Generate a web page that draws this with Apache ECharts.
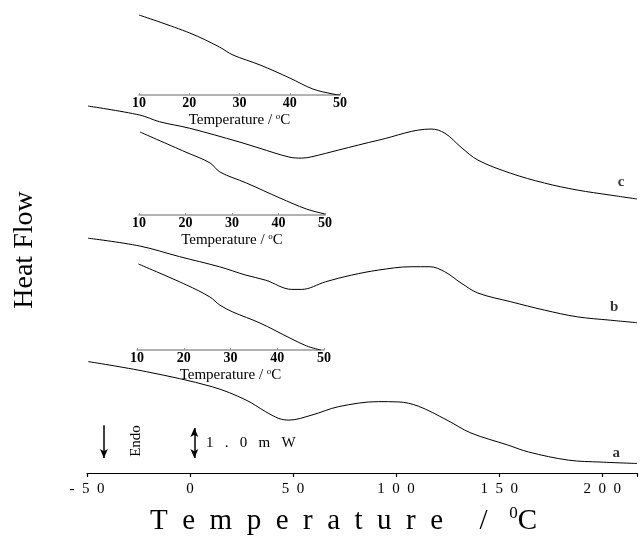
<!DOCTYPE html>
<html><head><meta charset="utf-8">
<script src="https://cdn.jsdelivr.net/npm/echarts@6/dist/echarts.min.js"></script>
<style>html,body{margin:0;padding:0;background:#fff}#c{width:640px;height:536px}</style>
</head><body><div id="c"></div>
<script>
// Main DSC curves: temperature (°C) and heat flow offset (mW, arbitrary baseline)
const tempC = [-49.5,-24.4,-14.8,-0.3,23.8,33.5,48,54.2,59.1,72.1,91.4,117,123.7,131.5,139.7,155.6,172,187.9,203.9,216.9];
const flowC = [13.11,12.79,12.55,12.32,11.83,11.61,11.29,11.25,11.30,11.54,11.89,12.29,12.14,11.64,11.18,10.71,10.36,10.11,9.93,9.79];
const tempB = [-49.5,-24.4,-5.1,14.2,27.1,36.7,49.4,54.2,65.7,78.4,91.4,107.3,116.4,123.6,131.5,139.7,155.6,172,187.9,203.9,216.9];
const flowB = [8.39,8.11,7.73,7.37,7.07,6.89,6.56,6.56,6.83,7.07,7.25,7.37,7.37,7.19,6.79,6.43,6.12,5.82,5.58,5.46,5.37];
const tempA = [-49.4,-21.2,10.8,27.1,36.7,43.1,48,59.1,72.1,91.4,101,110.7,124.7,136.3,154.2,164.3,183.6,199.5,216.9];
const flowA = [3.98,3.62,3.08,2.61,2.19,1.95,1.89,2.07,2.37,2.55,2.54,2.39,1.89,1.43,1.0,0.75,0.46,0.39,0.34];
const curveLabels = [{name:'c', t:209.2, f:10.39},{name:'b', t:205.8, f:5.93},{name:'a', t:206.8, f:0.71}];
const mainTicks = [-50,0,50,100,150,200];
// Insets (10-50 °C), heat flow in arbitrary units above the inset axis
const inset1T = [10,20.1,26,28.7,34.1,40,44.6,48.6,50];
const inset1F = [80,62,48,40,30,17,6,1,0];
const inset2T = [10.2,20.0,25.3,27.4,33.1,40.3,46,50];
const inset2F = [83,63,52,43,32,17,6,1];
const inset3T = [10.3,20.6,25.6,27.7,30.5,36.3,42.7,46.3,49.3];
const inset3F = [86,65,53,45,38,27,12,4,0];
const insetTicks = [10,20,30,40,50];

const SERIF = "'Liberation Serif','Times New Roman',serif";
const zip = (a,b)=>a.map((v,i)=>[v,b[i]]);
const spaced = s => String(s).split('').join('  ');

function insetAxis(idx){
  return {gridIndex:idx, type:'value', min:10, max:50, interval:10,
    axisLine:{lineStyle:{color:'#999',width:1.5}},
    axisTick:{show:true,length:2,inside:true,lineStyle:{color:'#999'}},
    axisLabel:{margin:1,color:'#000',fontFamily:SERIF,fontSize:14,fontWeight:'bold',
      formatter:v=>insetTicks.includes(v)?String(v):''},
    splitLine:{show:false},
    name:'Temperature / {s|o}C', nameLocation:'middle', nameGap:17,
    nameTextStyle:{color:'#000',fontFamily:SERIF,fontSize:15,
      rich:{s:{fontSize:9,verticalAlign:'top',padding:[0,0,7,0],fontFamily:SERIF,color:'#000'}}}};
}
function hiddenY(idx,max){
  return {gridIndex:idx,type:'value',min:0,max:max,show:false,splitLine:{show:false}};
}
const lineStyle = {color:'#000',width:1};
function curve(x,y,data){
  return {type:'line',xAxisIndex:x,yAxisIndex:y,data:data,smooth:0.35,symbol:'none',lineStyle:lineStyle,silent:true};
}

const chart = echarts.init(document.getElementById('c'));
chart.setOption({
  animation:false,
  backgroundColor:'#fff',
  grid:[
    {left:87,right:0,top:0,bottom:63},
    {left:139,width:201,top:10,height:85},
    {left:139,width:186,top:125,height:90},
    {left:137,width:187,top:260,height:90}
  ],
  xAxis:[
    {gridIndex:0,type:'value',min:-50,max:216.9,interval:50,
      axisLine:{lineStyle:{color:'#000',width:1.2}},
      axisTick:{show:true,length:4,lineStyle:{color:'#000',width:1.2}},
      axisLabel:{margin:9,color:'#000',fontFamily:SERIF,fontSize:15,
        formatter:v=>mainTicks.includes(v)?spaced(v):''},
      splitLine:{show:false}},
    insetAxis(1),insetAxis(2),insetAxis(3)
  ],
  yAxis:[hiddenY(0,16.9),hiddenY(1,85),hiddenY(2,90),hiddenY(3,90)],
  series:[
    curve(0,0,zip(tempC,flowC)),
    curve(0,0,zip(tempB,flowB)),
    Object.assign(curve(0,0,zip(tempA,flowA)),{
      markLine:{silent:true,symbolSize:[6,9],label:{show:false},
        lineStyle:{color:'#000',width:1.5,type:'solid'},
        data:[
          [{coord:[-41.8,1.71],symbol:'none'},{coord:[-41.8,0.54],symbol:'arrow'}],
          [{coord:[2.1,1.61],symbol:'arrow'},{coord:[2.1,0.54],symbol:'arrow'}]
        ]}
    }),
    {type:'scatter',xAxisIndex:0,yAxisIndex:0,symbolSize:1,itemStyle:{color:'rgba(0,0,0,0)'},silent:true,
      data:curveLabels.map(d=>({value:[d.t,d.f],name:d.name})),
      label:{show:true,position:'inside',formatter:p=>p.name,color:'#000',fontFamily:SERIF,fontSize:15,fontWeight:'bold'}},
    curve(1,1,zip(inset1T,inset1F)),
    curve(2,2,zip(inset2T,inset2F)),
    curve(3,3,zip(inset3T,inset3F))
  ],
  graphic:[
    {type:'text',x:25,y:250,rotation:Math.PI/2,style:{text:'Heat Flow',fill:'#000',font:'28px '+SERIF,textAlign:'center',textVerticalAlign:'middle'}},
    {type:'text',x:136,y:441,rotation:Math.PI/2,style:{text:'Endo',fill:'#000',font:'15px '+SERIF,textAlign:'center',textVerticalAlign:'middle'}},
    {type:'text',x:206,y:443,style:{text:'1   .   0   m   W',fill:'#000',font:'15px '+SERIF,textAlign:'left',textVerticalAlign:'middle'}},
    {type:'text',x:150,y:521,style:{
      text:'{a|T  e  m  p  e  r  a  t  u  r  e     /   }{s|0}{a|C}',
      textVerticalAlign:'middle',
      rich:{a:{fontFamily:SERIF,fontSize:29,fill:'#000',color:'#000'},
            s:{fontFamily:SERIF,fontSize:17,fill:'#000',color:'#000',verticalAlign:'top',padding:[0,0,14,0]}}}}
  ]
});
</script></body></html>
